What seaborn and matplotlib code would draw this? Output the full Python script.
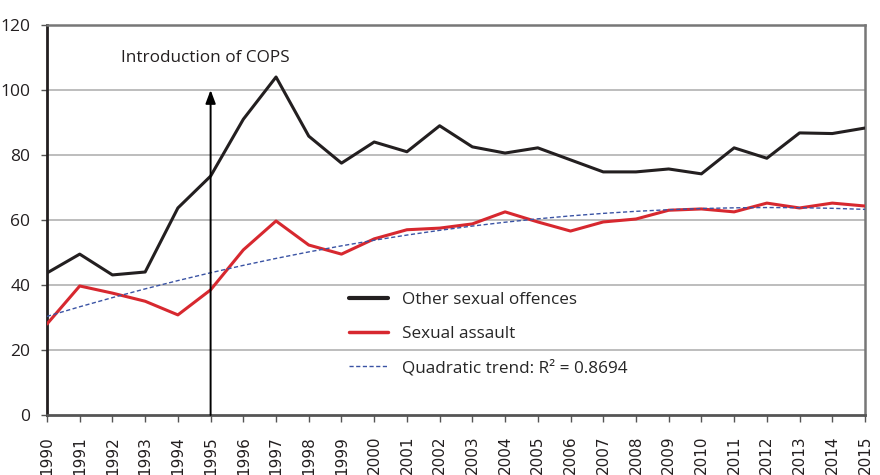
import numpy as np
import pandas as pd
import matplotlib
matplotlib.use("Agg")
import matplotlib.pyplot as plt
import seaborn as sns

years = list(range(1990, 2016))
other_sexual_offences = [43.7, 49.5, 43.1, 44.0, 63.7, 73.5, 91.0, 104.0, 85.8, 77.5,
                         84.0, 81.0, 89.0, 82.5, 80.6, 82.2, 78.5, 74.8, 74.8, 75.7,
                         74.2, 82.2, 79.0, 86.8, 86.6, 88.3]
sexual_assault = [28.0, 39.7, 37.5, 35.0, 30.8, 38.5, 50.8, 59.7, 52.3, 49.5,
                  54.2, 57.0, 57.5, 58.8, 62.5, 59.4, 56.6, 59.4, 60.3, 63.0,
                  63.4, 62.5, 65.2, 63.7, 65.2, 64.3]
y_ticks = [0, 20, 40, 60, 80, 100, 120]
labels = ["Other sexual offences", "Sexual assault", "Quadratic trend: R² = 0.8694"]
annotation = "Introduction of COPS"
cops_year = 1995

# quadratic trend fitted to sexual assault
coef = np.polyfit(np.array(years) - 1990, sexual_assault, 2)
trend = np.polyval(coef, np.array(years) - 1990)

df = pd.DataFrame({"year": years, "other": other_sexual_offences,
                   "assault": sexual_assault, "trend": trend})

sns.set_style("white")
plt.rcParams["font.family"] = ["Open Sans", "DejaVu Sans"]

fig = plt.figure(figsize=(8.8, 4.75), dpi=100)
ax = fig.add_axes([47/880, 60/475, 818/880, 390/475])

ax.set_axisbelow(True)
for t in y_ticks[1:-1]:
    ax.axhline(t, color="#bdbdbd", lw=1.4, zorder=0)

sns.lineplot(data=df, x="year", y="other", ax=ax, color="#231f20", lw=2.2,
             label=labels[0], zorder=4)
sns.lineplot(data=df, x="year", y="assault", ax=ax, color="#d7282f", lw=2.2,
             label=labels[1], zorder=3)
sns.lineplot(data=df, x="year", y="trend", ax=ax, color="#3a53a4", lw=1.0,
             ls=(0, (3, 1.8)), label=labels[2], zorder=3)

ax.annotate("", xy=(cops_year, 100), xytext=(cops_year, 0),
            arrowprops=dict(arrowstyle="-|>,head_width=0.3,head_length=0.8",
                            color="black", lw=1.4, shrinkA=0, shrinkB=0), zorder=5)
ax.text(cops_year - 0.15, 110, annotation, ha="center", va="center", fontsize=12.3,
        color="#231f20")

ax.set_xlim(1990, 2015)
ax.set_ylim(0, 120)
ax.set_xticks(years)
ax.set_xticklabels([str(y) for y in years], rotation=90, fontsize=11,
                   family="DejaVu Sans", color="#231f20")
ax.set_yticks(y_ticks)
ax.set_yticklabels([str(t) for t in y_ticks], fontsize=12.5, color="#231f20")
ax.tick_params(axis="x", bottom=True, length=5, width=1, color="#555555", pad=10)
ax.tick_params(axis="y", left=True, length=4, width=1, color="#555555", pad=8)
ax.set_xlabel("")
ax.set_ylabel("")

for side, c, w in [("left", "#231f20", 2.0), ("bottom", "#555555", 2.0),
                   ("top", "#777777", 1.8), ("right", "#777777", 1.8)]:
    ax.spines[side].set_visible(True)
    ax.spines[side].set_color(c)
    ax.spines[side].set_linewidth(w)

leg = ax.legend(loc="upper left", bbox_to_anchor=(0.35, 0.355), frameon=False,
                fontsize=12.3, handlelength=2.3, handletextpad=0.8, labelspacing=1.05)
for h, w in zip(leg.get_lines(), [3.0, 2.5, 1.0]):
    h.set_linewidth(w)

fig.savefig("out.png", dpi=100)
